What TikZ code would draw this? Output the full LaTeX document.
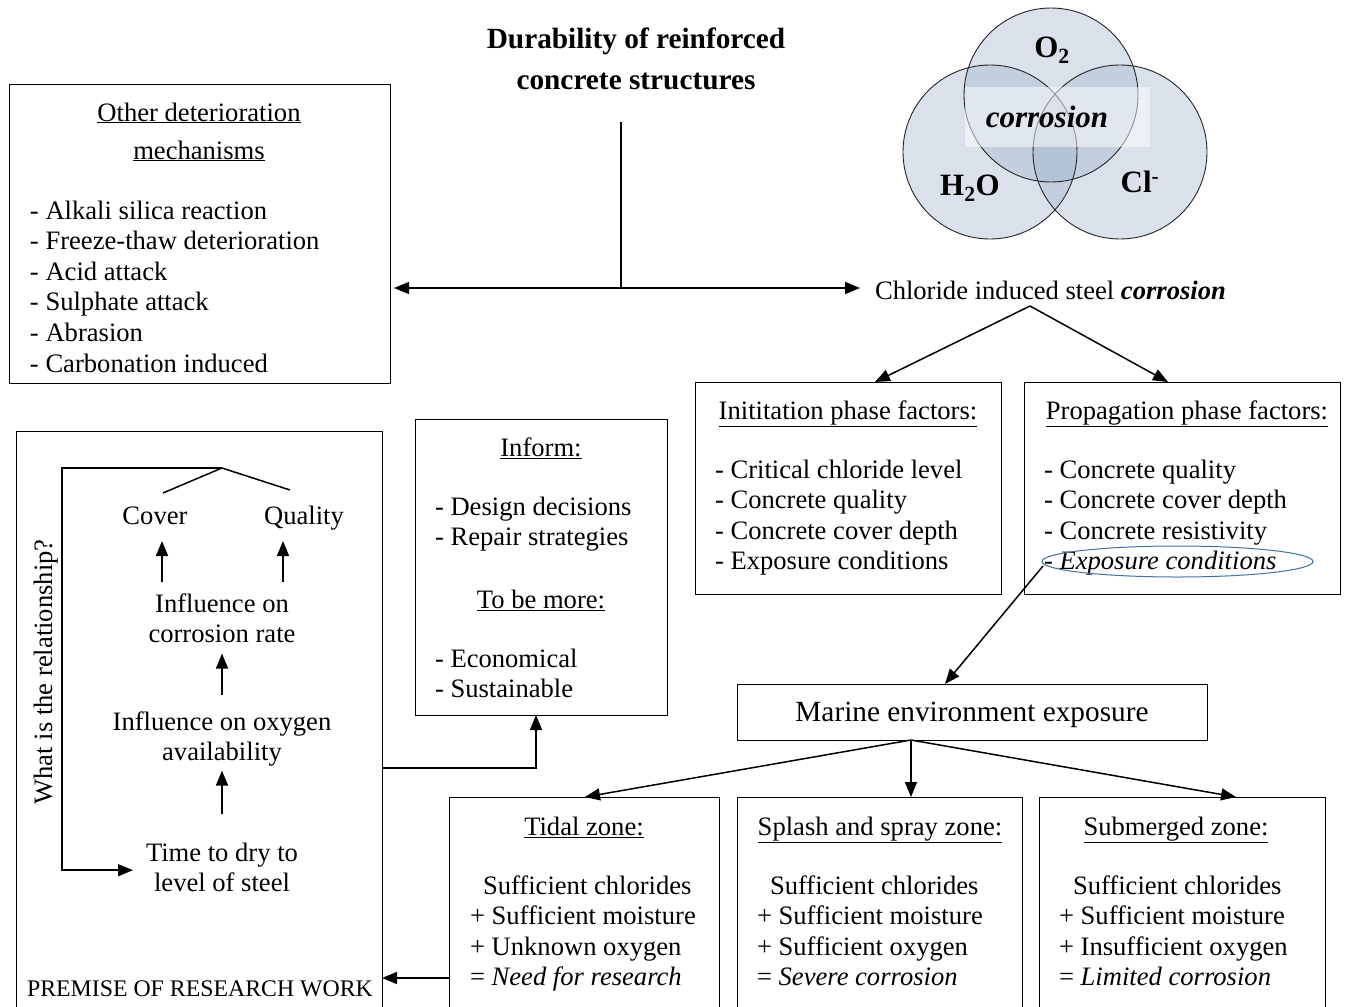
\documentclass[tikz,border=0pt]{standalone}
\usepackage{fontspec}
\setmainfont{Liberation Serif}
\usetikzlibrary{arrows.meta,shapes.geometric}
\newcommand\bodyfs{\fontsize{26.6}{30.6}\selectfont}
\newcommand\bigfs{\fontsize{29.3}{41}\selectfont}
\newcommand\smallfs{\fontsize{23.8}{28}\selectfont}
\newcommand\vennfs{\fontsize{31}{36}\selectfont}
\definecolor{venn}{RGB}{160,178,204}
\definecolor{ellblue}{RGB}{65,113,156}
\begin{document}
\begin{tikzpicture}[x=1pt,y=-1pt,
  box/.style={draw, line width=1pt, inner sep=0pt, outer sep=0pt},
  txt/.style={inner sep=0pt, outer sep=0pt, font=\bodyfs},
  conn/.style={line width=1.5pt},
  arr/.style={line width=1.5pt, -{Triangle[length=15pt,width=12pt]}},
  larr/.style={line width=1.5pt, {Triangle[length=15pt,width=12pt]}-{Triangle[length=15pt,width=12pt]}}]
\clip (0,0) rectangle (1361,1007);
\fill[white] (0,0) rectangle (1361,1007);

% ---------- title ----------
\node[txt, font=\bigfs\bfseries, anchor=base] (title) at (636,48)
  {\begin{tabular}[t]{@{}c@{}}Durability of reinforced\\concrete structures\end{tabular}};
\coordinate (stemtop) at (621,122);
\coordinate (hub) at (621,288);

% ---------- Venn ----------
\begin{scope}[fill opacity=0.38]
  \fill[venn] (1051,95) circle (87pt);
  \fill[venn] (990,152) circle (87pt);
  \fill[venn] (1120,152) circle (87pt);
\end{scope}
\draw[line width=0.9pt, black!85] (1051,95) circle (87pt);
\draw[line width=0.9pt, black!85] (990,152) circle (87pt);
\draw[line width=0.9pt, black!85] (1120,152) circle (87pt);
\fill[white, fill opacity=0.5] (965,87) rectangle (1150,147);
\node[txt, font=\vennfs\bfseries] (o2) at (1052,50) {O\textsubscript{2}};
\node[txt, font=\vennfs\bfseries] (h2o) at (970,188) {H\textsubscript{2}O};
\node[txt, font=\vennfs\bfseries] (cl) at (1140,182) {Cl\textsuperscript{-}};
\node[txt, font=\vennfs\bfseries\itshape] (corr) at (1047,117) {corrosion};

% ---------- other mechanisms ----------
\node[box, minimum width=381pt, minimum height=299pt] (other) at (199.5,233.5) {};
\node[txt, anchor=base] (othertitle) at (199,121)
  {\begin{tabular}[t]{@{}c@{}}\underline{Other deterioration}\\[7.4pt]\underline{mechanisms}\end{tabular}};
\node[txt, anchor=base west] (otherlist) at (30,219)
  {\begin{tabular}[t]{@{}l@{}}- Alkali silica reaction\\- Freeze-thaw deterioration\\- Acid attack\\- Sulphate attack\\- Abrasion\\- Carbonation induced\end{tabular}};

% ---------- chloride ----------
\node[txt, anchor=base west] (chl) at (875,299) {Chloride induced steel \textbf{\textit{corrosion}}};

\draw[conn] (stemtop) -- (hub);
\draw[larr] ([xshift=4pt]other.east |- hub) -- ([xshift=-15pt]chl.west |- hub);

% ---------- phase boxes ----------
\node[box, minimum width=306pt, minimum height=212pt] (init) at (848,488) {};
\node[box, minimum width=316pt, minimum height=212pt] (prop) at (1182,488) {};
\node[txt, anchor=base] (inittitle) at (848,419) {\underline{Inititation phase factors:}};
\node[txt, anchor=base west] (initlist) at (715,478)
  {\begin{tabular}[t]{@{}l@{}}- Critical chloride level\\- Concrete quality\\- Concrete cover depth\\- Exposure conditions\end{tabular}};
\node[txt, anchor=base] (proptitle) at (1187,419) {\underline{Propagation phase factors:}};
\node[txt, anchor=base west] (proplist) at (1044,478)
  {\begin{tabular}[t]{@{}l@{}}- Concrete quality\\- Concrete cover depth\\- Concrete resistivity\\\textit{- Exposure conditions}\end{tabular}};
\node[draw=ellblue, ellipse, line width=1pt, minimum width=271pt, minimum height=31pt, inner sep=0pt] (ell) at (1177.5,561.5) {};

\coordinate (vtop) at (1030,306);
\draw[arr] (vtop) -- ([xshift=27pt]init.north);
\draw[arr] (vtop) -- ([xshift=-14pt]prop.north);

% ---------- marine ----------
\node[box, minimum width=470pt, minimum height=56pt] (marine) at (972,712) {};
\node[txt, font=\bigfs, anchor=base] (marinetext) at (972,721) {Marine environment exposure};
\coordinate (ellpt) at (1043,566);
\draw[arr] (ellpt) -- ([xshift=-27pt]marine.north);

% ---------- zone boxes ----------
\node[box, minimum width=270pt, minimum height=215pt] (tidal) at (584,904.5) {};
\node[box, minimum width=285pt, minimum height=215pt] (splash) at (879.5,904.5) {};
\node[box, minimum width=286pt, minimum height=215pt] (sub) at (1182,904.5) {};

\node[txt, anchor=base] (tidaltitle) at (584,835) {\underline{Tidal zone:}};
\node[txt, anchor=base west] (tidallist) at (470,894)
  {\begin{tabular}[t]{@{}l@{}}\hspace*{13pt}Sufficient chlorides\\+ Sufficient moisture\\+ Unknown oxygen\\= \textit{Need for research}\end{tabular}};
\node[txt, anchor=base] (splashtitle) at (880,835) {\underline{Splash and spray zone:}};
\node[txt, anchor=base west] (splashlist) at (757,894)
  {\begin{tabular}[t]{@{}l@{}}\hspace*{13pt}Sufficient chlorides\\+ Sufficient moisture\\+ Sufficient oxygen\\= \textit{Severe corrosion}\end{tabular}};
\node[txt, anchor=base] (subtitle) at (1176,835) {\underline{Submerged zone:}};
\node[txt, anchor=base west] (sublist) at (1059,894)
  {\begin{tabular}[t]{@{}l@{}}\hspace*{14pt}Sufficient chlorides\\+ Sufficient moisture\\+ Insufficient oxygen\\= \textit{Limited corrosion}\end{tabular}};

\coordinate (mhub) at (911,740);
\draw[arr] (mhub) -- ([xshift=1pt]tidal.north);
\draw[arr] (mhub) -- (mhub |- splash.north);
\draw[arr] (mhub) -- ([xshift=54pt]sub.north);

% ---------- premise ----------
\node[box, minimum width=366pt, minimum height=581pt] (premise) at (199,721.5) {};
\node[txt, font=\smallfs, anchor=base] (premisetext) at (200,996) {PREMISE OF RESEARCH WORK};
\draw[arr] ([yshift=-73.5pt]tidal.west) -- ([yshift=-73.5pt]tidal.west -| premise.east);

% ---------- inform ----------
\node[box, minimum width=252pt, minimum height=296pt] (inform) at (541,567) {};
\node[txt, anchor=base] (informtitle) at (541,456) {\underline{Inform:}};
\node[txt, anchor=base west] (informlist) at (435,515)
  {\begin{tabular}[t]{@{}l@{}}- Design decisions\\- Repair strategies\end{tabular}};
\node[txt, anchor=base] (moretitle) at (541,608) {\underline{To be more:}};
\node[txt, anchor=base west] (morelist) at (435,667)
  {\begin{tabular}[t]{@{}l@{}}- Economical\\- Sustainable\end{tabular}};
\draw[arr] ([yshift=-46.5pt]premise.east) -| ([xshift=-5pt]inform.south);

% ---------- premise interior ----------
\node[txt, anchor=base] (cover) at (155,524) {Cover};
\node[txt, anchor=base] (quality) at (304,524) {Quality};
\node[txt, anchor=base] (infl1) at (222,612)
  {\begin{tabular}[t]{@{}c@{}}Influence on\\corrosion rate\end{tabular}};
\node[txt, anchor=base] (infl2) at (222,730)
  {\begin{tabular}[t]{@{}c@{}}Influence on oxygen\\availability\end{tabular}};
\node[txt, anchor=base] (time) at (222,861)
  {\begin{tabular}[t]{@{}c@{}}Time to dry to\\level of steel\end{tabular}};
\node[txt, rotate=90] (rel) at (46,672) {What is the relationship?};

\coordinate (brL) at (62,468);
\coordinate (brA) at (222,468);
\coordinate (brC) at (163,493);
\coordinate (brQ) at (290,490);
\draw[conn] (brC) -- (brA) -- (brQ);
\draw[arr] (brA) -- (brL) |- ([xshift=-13pt]time.west);

\coordinate (cvA) at (162,582);
\coordinate (cvB) at (162,541);
\coordinate (qlA) at (283,582);
\coordinate (qlB) at (283,541);
\draw[arr] (cvA) -- (cvB);
\draw[arr] (qlA) -- (qlB);
\draw[arr] ([yshift=13.6pt]infl2.north) -- ([yshift=-1.8pt]infl1.south);
\draw[arr] ([yshift=25.6pt]time.north) -- ([yshift=-0.8pt]infl2.south);
\end{tikzpicture}
\end{document}
